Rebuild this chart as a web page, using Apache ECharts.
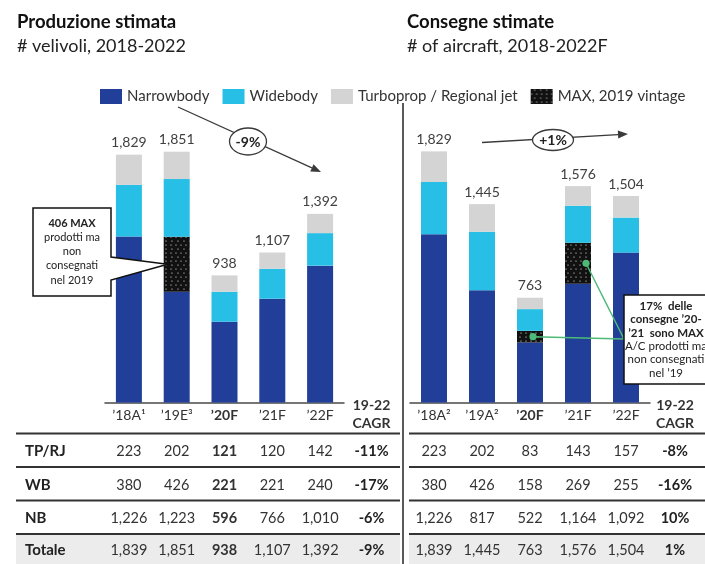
<!DOCTYPE html>
<html>
<head>
<meta charset="utf-8">
<script src="https://cdn.jsdelivr.net/npm/echarts@6/dist/echarts.min.js"></script>
<style>
  html, body { margin: 0; padding: 0; background: #fff; }
  #c { width: 705px; height: 564px; }
</style>
</head>
<body>
<div id="c"></div>
<script>
// Category labels
const prodCats = ['’18A¹', '’19E³', '’20F', '’21F', '’22F'];
const delivCats = ['’18A²', '’19A²', '’20F', '’21F', '’22F'];

// Estimated production (aircraft)
const prodTP = [223, 202, 121, 120, 142];
const prodWB = [380, 426, 221, 221, 240];
const prodNB = [1226, 1223, 596, 766, 1010];
const prodMAX = [0, 406, 0, 0, 0];            // part of NB, built but not delivered
const prodTotalRow = [1839, 1851, 938, 1107, 1392];
const prodCAGR = ['-11%', '-17%', '-6%', '-9%'];

// Estimated deliveries (aircraft)
const delivTP = [223, 202, 83, 143, 157];
const delivWB = [380, 426, 158, 269, 255];
const delivNB = [1226, 817, 522, 1164, 1092];
const delivMAX = [0, 0, 85, 300, 0];          // part of NB, 2019-vintage MAX
const delivTotalRow = [1839, 1445, 763, 1576, 1504];
const delivCAGR = ['-8%', '-16%', '10%', '1%'];

const rowLabels = ['TP/RJ', 'WB', 'NB', 'Totale'];
const cagrHeader = ['19-22', 'CAGR'];
const trendLabels = ['-9%', '+1%'];

const FONT = 'Lato, "Open Sans", sans-serif';
const C_NB = '#213f99';
const C_WB = '#27bfe6';
const C_TP = '#d4d4d4';
const C_MAX = '#111111';
const C_TXT = '#333333';
const C_LINE = '#3a3a3a';
const C_GREEN = '#4dbb78';

const fmt = n => n.toLocaleString('en-US');

const maxDecal = {
  symbol: 'circle',
  color: '#ffffff',
  symbolSize: 0.6,
  dashArrayX: [[2, 3], [0, 2.5, 2, 0.5]],
  dashArrayY: [2, 1.2]
};

function stackSeries(g, nb, max, wb, tp) {
  const base = { type: 'bar', xAxisIndex: g, yAxisIndex: g, stack: 'tot' + g, barWidth: 26, silent: true };
  return [
    Object.assign({}, base, { name: 'Narrowbody', data: nb.map((v, i) => v - max[i]), itemStyle: { color: C_NB } }),
    Object.assign({}, base, { name: 'MAX, 2019 vintage', data: max.slice(), itemStyle: { color: C_MAX, decal: maxDecal } }),
    Object.assign({}, base, { name: 'Widebody', data: wb.slice(), itemStyle: { color: C_WB } }),
    Object.assign({}, base, {
      name: 'Turboprop / Regional jet', data: tp.slice(), itemStyle: { color: C_TP },
      label: {
        show: true, position: 'top', distance: 5,
        fontFamily: FONT, fontSize: 14, color: '#404040',
        formatter: p => fmt(nb[p.dataIndex] + wb[p.dataIndex] + tp[p.dataIndex])
      }
    })
  ];
}

function catAxis(g, cats) {
  return {
    type: 'category', gridIndex: g, data: cats,
    axisLine: { lineStyle: { color: '#4a4a4a', width: 1.5 } },
    axisTick: { show: false },
    axisLabel: {
      interval: 0, margin: 6, fontFamily: FONT, fontSize: 14, color: C_TXT,
      formatter: (v, i) => i === 2 ? '{b|' + v + '}' : v,
      rich: { b: { fontFamily: FONT, fontSize: 14, fontWeight: 'bold', color: C_TXT } }
    }
  };
}

const chart = echarts.init(document.getElementById('c'), null, { renderer: 'canvas' });

chart.setOption({
  animation: false,
  backgroundColor: '#ffffff',
  aria: { enabled: true, decal: { show: false } },
  title: [
    {
      text: 'Produzione stimata', subtext: '# velivoli, 2018-2022',
      left: 12, top: 8, itemGap: 5,
      textStyle: { fontFamily: FONT, fontSize: 18.5, fontWeight: 'bold', color: '#111' },
      subtextStyle: { fontFamily: FONT, fontSize: 18, color: '#222' }
    },
    {
      text: 'Consegne stimate', subtext: '# of aircraft, 2018-2022F',
      left: 402, top: 8, itemGap: 5,
      textStyle: { fontFamily: FONT, fontSize: 18.5, fontWeight: 'bold', color: '#111' },
      subtextStyle: { fontFamily: FONT, fontSize: 18, color: '#222' }
    }
  ],
  legend: {
    left: 95, top: 84, itemWidth: 22, itemHeight: 15, itemGap: 13,
    icon: 'rect',
    data: ['Narrowbody', 'Widebody', 'Turboprop / Regional jet', 'MAX, 2019 vintage'],
    textStyle: { fontFamily: FONT, fontSize: 15, color: C_TXT },
    selectedMode: false
  },
  grid: [
    { left: 105, width: 239, top: 131.5, height: 271 },
    { left: 410, width: 240, top: 127.9, height: 274.6 }
  ],
  xAxis: [catAxis(0, prodCats), catAxis(1, delivCats)],
  yAxis: [
    { type: 'value', gridIndex: 0, min: 0, max: 2000, show: false },
    { type: 'value', gridIndex: 1, min: 0, max: 2000, show: false }
  ],
  series: [
    ...stackSeries(0, prodNB, prodMAX, prodWB, prodTP),
    ...stackSeries(1, delivNB, delivMAX, delivWB, delivTP)
  ]
});

// ---- annotations and the data table, positioned from the axes ----
const px = (g, i, v) => chart.convertToPixel({ xAxisIndex: g, yAxisIndex: g }, [i, v]);

function txt(text, x, y, opt) {
  return {
    type: 'text', z: 20,
    style: Object.assign({
      text, x, y, align: 'center', verticalAlign: 'middle',
      fontFamily: FONT, fontSize: 14, fill: C_TXT
    }, opt || {})
  };
}

function arrowLine(x1, y1, x2, y2, color) {
  const a = Math.atan2(y2 - y1, x2 - x1), L = 10, W = 4;
  const bx = x2 - L * Math.cos(a), by = y2 - L * Math.sin(a);
  return [
    { type: 'line', z: 15, shape: { x1, y1, x2: bx, y2: by }, style: { stroke: color, lineWidth: 1.3 } },
    {
      type: 'polygon', z: 15,
      shape: { points: [[x2, y2], [bx + W * Math.sin(a), by - W * Math.cos(a)], [bx - W * Math.sin(a), by + W * Math.cos(a)]] },
      style: { fill: color }
    }
  ];
}

const els = [];

// divider between the two panels
els.push({ type: 'line', z: 15, shape: { x1: 403, y1: 103, x2: 403, y2: 564 }, style: { stroke: '#222', lineWidth: 1.5 } });

// trend arrows with CAGR bubbles
els.push(...arrowLine(178, 107, 321, 172, C_LINE));
els.push({ type: 'ellipse', z: 16, shape: { cx: 248, cy: 141.5, rx: 18.5, ry: 13.5 }, style: { fill: '#fff', stroke: C_LINE, lineWidth: 1.3 } });
els.push(txt(trendLabels[0], 248, 142, { fontWeight: 'bold', fontSize: 14, fill: '#222' }));
els.push(...arrowLine(482, 142.5, 628, 134, C_LINE));
els.push({ type: 'ellipse', z: 16, shape: { cx: 553, cy: 140, rx: 20.5, ry: 10.5 }, style: { fill: '#fff', stroke: C_LINE, lineWidth: 1.3 } });
els.push(txt(trendLabels[1], 553, 140.5, { fontWeight: 'bold', fontSize: 14, fill: '#222' }));

// callout on the production panel, pointing at the MAX block
const maxIdxP = prodMAX.findIndex(v => v > 0);
const maxBase = prodNB[maxIdxP] - prodMAX[maxIdxP];
const tipP = px(0, maxIdxP, maxBase + prodMAX[maxIdxP] * 0.5);
const tipX = tipP[0] - 9, tipY = tipP[1];
els.push({
  type: 'polygon', z: 18,
  shape: { points: [[33, 208], [111, 208], [111, 257], [tipX, tipY], [111, 280], [111, 296], [33, 296]] },
  style: { fill: '#fff', stroke: '#111', lineWidth: 1.5 }
});
const calloutL = [['406 MAX', true], ['prodotti ma', false], ['non', false], ['consegnati', false], ['nel 2019', false]];
calloutL.forEach((l, i) => els.push(txt(l[0], 72, 223 + i * 14.3, { fontSize: 11, fontWeight: l[1] ? 'bold' : 'normal', fill: '#222' })));

// callout on the deliveries panel, linked to the MAX blocks
const hub = [624, 339];
const dotOffsets = [3, 8];
let k = 0;
delivMAX.forEach((v, i) => {
  if (!v) return;
  const base = delivNB[i] - v;
  const p = px(1, i, base + v * 0.5);
  const dx = p[0] + dotOffsets[k++];
  els.push({ type: 'line', z: 16, shape: { x1: dx, y1: p[1], x2: hub[0], y2: hub[1] }, style: { stroke: C_GREEN, lineWidth: 1.5 } });
  els.push({ type: 'circle', z: 17, shape: { cx: dx, cy: p[1], r: 3.6 }, style: { fill: C_GREEN } });
});
els.push({ type: 'rect', z: 18, shape: { x: 624, y: 295, width: 90, height: 89 }, style: { fill: '#fff', stroke: '#111', lineWidth: 1.5 } });
const calloutR = [['17%  delle', true], ['consegne ’20-', true], ['’21  sono MAX', true], ['A/C prodotti ma', false], ['non consegnati', false], ['nel ’19', false]];
calloutR.forEach((l, i) => els.push(txt(l[0], 666, 306 + i * 13.4, { fontSize: 11.5, fontWeight: l[1] ? 'bold' : 'normal', fill: '#222' })));

// CAGR headers
[371.5, 675].forEach(x => {
  els.push(txt(cagrHeader[0], x, 405, { fontWeight: 'bold', fontSize: 14, fill: '#333' }));
  els.push(txt(cagrHeader[1], x, 423, { fontWeight: 'bold', fontSize: 14, fill: '#333' }));
});

// data table
const rowY = [451.5, 485, 518.5, 550];
const lineY = [433.5, 467, 500.5, 534];
const spans = [[16, 400], [409, 705]];
spans.forEach(s => {
  els.push({ type: 'rect', z: 1, shape: { x: s[0], y: lineY[3], width: s[1] - s[0], height: 564 - lineY[3] }, style: { fill: '#ececec' } });
  lineY.forEach(y => els.push({ type: 'line', z: 3, shape: { x1: s[0], y1: y, x2: s[1], y2: y }, style: { stroke: '#333', lineWidth: 2 } }));
});
rowLabels.forEach((r, i) => els.push(txt(r, 25, rowY[i], { align: 'left', fontWeight: 'bold', fontSize: 15, fill: '#222' })));

const tables = [
  { g: 0, rows: [prodTP, prodWB, prodNB, prodTotalRow], cagr: prodCAGR, cagrX: 371.5, boldCol: 2 },
  { g: 1, rows: [delivTP, delivWB, delivNB, delivTotalRow], cagr: delivCAGR, cagrX: 675, boldCol: -1 }
];
tables.forEach(t => {
  t.rows.forEach((row, r) => {
    row.forEach((v, i) => {
      const x = px(t.g, i, 0)[0];
      els.push(txt(fmt(v), x, rowY[r], { fontSize: 14.5, fontWeight: i === t.boldCol ? 'bold' : 'normal' }));
    });
    els.push(txt(t.cagr[r], t.cagrX, rowY[r], { fontSize: 14.5, fontWeight: 'bold', fill: '#222' }));
  });
});

chart.setOption({ graphic: { elements: els } });
</script>
</body>
</html>
